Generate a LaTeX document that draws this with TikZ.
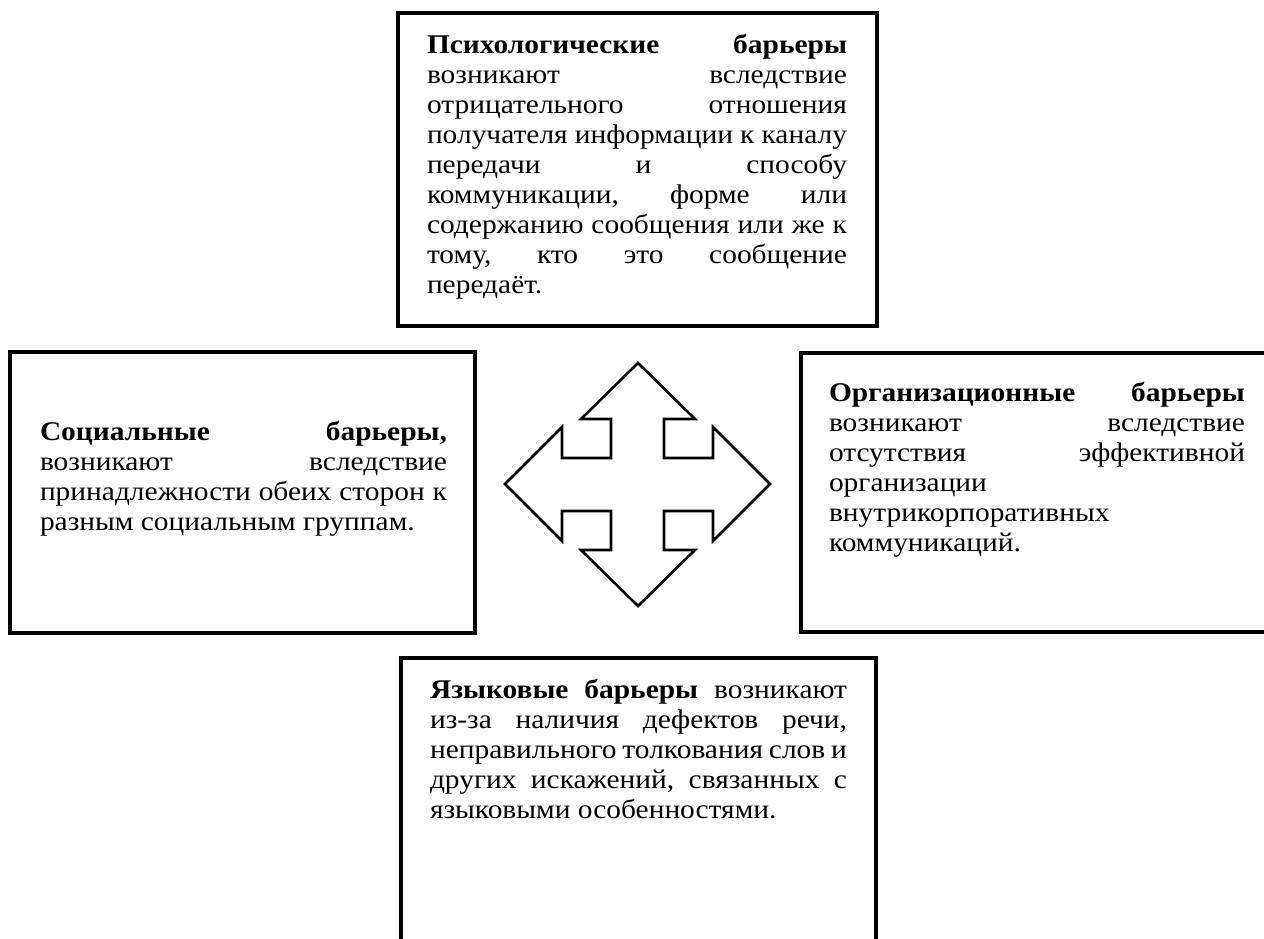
\documentclass[tikz,border=0pt]{standalone}
\usepackage{fontspec}
\setmainfont[FakeStretch=1.09]{Liberation Serif}
\newcommand\jline[1]{\hbox to \hsize{#1}}
\newcommand\lline[1]{\hbox{#1}}
\newcommand\bartext[2]{\vtop{\hsize=#1\relax\fontsize{13.5}{15}\selectfont\frenchspacing\baselineskip=15pt\lineskiplimit=-20pt\parindent=0pt #2}}
\tikzset{
  barbox/.style={draw=black, line width=1.7pt},
  bartxt/.style={anchor=base west, inner sep=0pt, outer sep=0pt},
  cross/.style={draw=black, line width=1.3pt, line join=miter, fill=white}
}
\begin{document}
\begin{tikzpicture}[x=0.5pt, y=-0.5pt]
\path[use as bounding box] (0,0) rectangle (1264,938);
\clip (0,0) rectangle (1264,938);
\fill[white] (0,0) rectangle (1264,938);

% boxes
\draw[barbox] (398,13) rectangle (877,326);
\draw[barbox] (10,352) rectangle (475,633);
\draw[barbox] (801,353) rectangle (1290,632);
\draw[barbox] (401,658) rectangle (876,980);

% texts
\node[bartxt] (psy) at (427,53) {\bartext{210pt}{%
\jline{\textbf{Психологические барьеры}}
\jline{возникают вследствие}
\jline{отрицательного отношения}
\jline{получателя информации к каналу}
\jline{передачи и способу}
\jline{коммуникации, форме или}
\jline{содержанию сообщения или же к}
\jline{тому, кто это сообщение}
\lline{передаёт.}}};

\node[bartxt] (soc) at (40,440) {\bartext{203.5pt}{%
\jline{\textbf{Социальные барьеры,}}
\jline{возникают вследствие}
\jline{принадлежности обеих сторон к}
\lline{разным социальным группам.}}};

\node[bartxt] (org) at (829,401) {\bartext{208pt}{%
\jline{\textbf{Организационные барьеры}}
\jline{возникают вследствие}
\jline{отсутствия эффективной}
\lline{организации}
\lline{внутрикорпоративных}
\lline{коммуникаций.}}};

\node[bartxt] (lang) at (430,698) {\bartext{208.5pt}{%
\jline{\textbf{Языковые барьеры} возникают}
\jline{из-за наличия дефектов речи,}
\jline{неправильного толкования слов и}
\jline{других искажений, связанных с}
\lline{языковыми особенностями.}}};

% four-way arrow
\draw[cross] (638,363) -- (695,419) -- (664,419) -- (664,458) -- (713,458) -- (713,427)
  -- (770,484) -- (713,541) -- (713,511) -- (664,511) -- (664,550) -- (695,550)
  -- (638,606) -- (581,550) -- (611,550) -- (611,511) -- (562,511) -- (562,541)
  -- (505,484) -- (562,427) -- (562,458) -- (611,458) -- (611,419) -- (581,419) -- cycle;
\end{tikzpicture}
\end{document}
